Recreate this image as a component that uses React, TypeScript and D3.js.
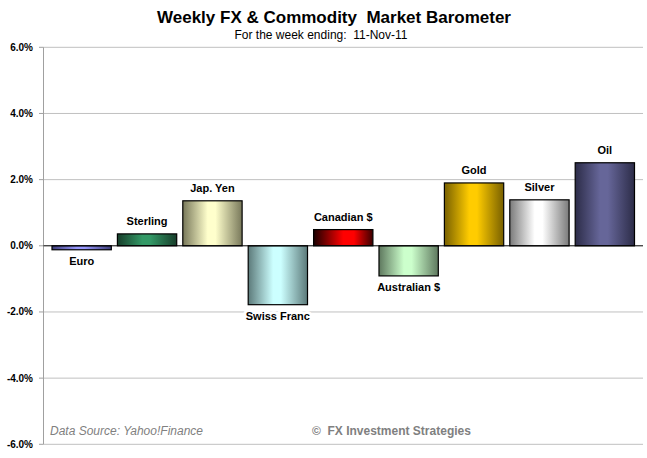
import * as d3 from "d3";

const categories: string[] = [
  "Euro",
  "Sterling",
  "Jap. Yen",
  "Swiss Franc",
  "Canadian $",
  "Australian $",
  "Gold",
  "Silver",
  "Oil",
];
const weeklyChange: number[] = [-0.12, 0.36, 1.36, -1.78, 0.49, -0.91, 1.9, 1.39, 2.51];
const yTicks: number[] = [-6, -4, -2, 0, 2, 4, 6];

// edge / centre shades for the cylinder-like fill of each bar
const shades: string[][] = [
  ["#3c3c78", "#9999ff"],
  ["#173d2a", "#339966"],
  ["#78785a", "#ffffcc"],
  ["#5c7a7a", "#ccffff"],
  ["#1a0000", "#ff0000"],
  ["#5e785e", "#ccffcc"],
  ["#786000", "#ffcc00"],
  ["#7a7a7a", "#ffffff"],
  ["#2c2c48", "#666699"],
];

const W = 647;
const H = 458;
const left = 43.5;
const right = 643;
const font = "'Liberation Sans', Arial, sans-serif";

export default function App() {
  const x = d3
    .scaleBand<string>()
    .domain(categories)
    .range([left, right])
    .paddingInner(0.093)
    .paddingOuter(0.13);

  const y = d3.scaleLinear().domain([-6, 6]).range([444.3, 47.3]);
  const fmt = (t: number) => t.toFixed(1) + "%";

  return (
    <svg
      width={W}
      height={H}
      style={{ position: "absolute", left: 0, top: 0, background: "#fff" }}
      fontFamily={font}
    >
      <defs>
        {shades.map((s, i) => (
          <linearGradient key={i} id={`bar${i}`} x1="0" x2="1" y1="0" y2="0">
            <stop offset="0" stopColor={s[0]} />
            <stop offset={i === 4 ? "0.5" : "0.42"} stopColor={s[1]} />
            <stop offset={i === 4 ? "0.68" : "0.55"} stopColor={s[1]} />
            <stop offset="1" stopColor={i === 4 ? "#3a0000" : s[0]} />
          </linearGradient>
        ))}
      </defs>

      <text
        x={334}
        y={23}
        textAnchor="middle"
        fontWeight="bold"
        fontSize={17}
        xmlSpace="preserve"
      >
        Weekly FX &amp; Commodity  Market Barometer
      </text>
      <text x={321} y={39} textAnchor="middle" fontSize={12} xmlSpace="preserve">
        For the week ending:  11-Nov-11
      </text>

      {/* gridlines and y axis */}
      {yTicks.map((t) => (
        <g key={t}>
          {t !== 0 && (
            <line x1={left} x2={right} y1={y(t)} y2={y(t)} stroke="#c0c0c0" />
          )}
          <line x1={39} x2={left} y1={y(t)} y2={y(t)} stroke="#a0a0a0" />
          <text
            x={33}
            y={y(t)}
            dy="0.35em"
            textAnchor="end"
            fontSize={10}
            fontWeight="bold"
          >
            {fmt(t)}
          </text>
        </g>
      ))}
      <line x1={left} x2={left} y1={y(6)} y2={y(-6)} stroke="#a0a0a0" />

      {/* bars */}
      {categories.map((c, i) => {
        const v = weeklyChange[i];
        const top = y(Math.max(v, 0));
        const bottom = y(Math.min(v, 0));
        return (
          <rect
            key={c}
            x={x(c)}
            y={top}
            width={x.bandwidth()}
            height={bottom - top}
            fill={`url(#bar${i})`}
            stroke="#000"
            strokeWidth={1.2}
          />
        );
      })}
      <line x1={left} x2={right} y1={y(0)} y2={y(0)} stroke="#000" />

      {/* data labels */}
      {categories.map((c, i) => {
        const v = weeklyChange[i];
        const cx = (x(c) as number) + x.bandwidth() / 2;
        const ly = v >= 0 ? y(v) - 9 : y(v) + 15;
        return (
          <text
            key={c}
            x={cx}
            y={ly}
            textAnchor="middle"
            fontSize={11}
            fontWeight="bold"
            stroke="#fff"
            strokeWidth={6}
            paintOrder="stroke"
            strokeLinejoin="round"
          >
            {c}
          </text>
        );
      })}

      <text x={50} y={435} fontSize={12} fontStyle="italic" fill="#808080">
        Data Source: Yahoo!Finance
      </text>
      <text x={312} y={435} fontSize={12} fontWeight="bold" fill="#808080" xmlSpace="preserve">
        ©  FX Investment Strategies
      </text>
    </svg>
  );
}
